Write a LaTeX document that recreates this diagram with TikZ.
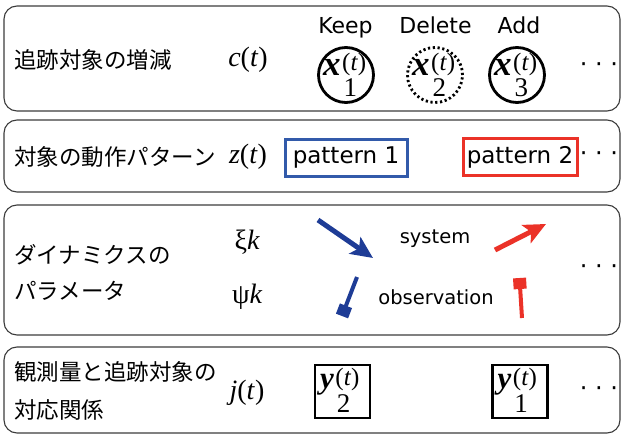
\documentclass[tikz,border=0pt]{standalone}
\usepackage{fontspec}
\setmainfont{DejaVu Sans}
\newfontfamily\jp{Noto Sans CJK JP}
\newfontfamily\tmsf{Liberation Serif}
\newfontfamily\vfont{DejaVu Sans}
\usetikzlibrary{arrows.meta}
\definecolor{myblue}{RGB}{30,60,150}
\definecolor{boxblue}{RGB}{50,90,170}
\definecolor{myred}{RGB}{235,50,40}
\definecolor{frame}{RGB}{60,60,60}
% #1 letter, #2 subscript, #3 letter size, #4 raise of (t), #5 drop of subscript
\newcommand\vecsym[5]{{\fontsize{#3}{#3}\tmsf\bfseries\itshape #1}\kern1.5pt\rlap{\kern1.5pt\raisebox{-#5}{\fontsize{27}{27}\tmsf #2}}\raisebox{#4}{\fontsize{25}{25}\tmsf(\itshape t\/\upshape)}}
\begin{document}
\begin{tikzpicture}[x=1pt,y=-1pt,
  panel/.style={draw=frame,line width=1.1pt,rounded corners=13pt},
  jptext/.style={font=\fontsize{22.5}{22.5}\jp,anchor=west,inner sep=0pt},
  mlabel/.style={font=\fontsize{28}{28}\tmsf,inner sep=0pt},
  lat/.style={font=\fontsize{22}{22}\vfont,inner sep=0pt},
  small/.style={font=\fontsize{19.5}{19.5}\vfont,inner sep=0pt},
  dots/.style={font=\fontsize{24}{24}\vfont,inner sep=0pt},
  vtext/.style={anchor=base west,inner sep=0pt},
  xcirc/.style={circle,draw=black,line width=2.8pt,minimum size=55pt,inner sep=0pt},
  ybox/.style={draw=black,line width=2.8pt,minimum width=55pt,minimum height=53pt,inner sep=0pt},
  patbox/.style={line width=3pt,minimum height=37pt,inner sep=0pt,font=\fontsize{23}{23}\vfont},
  bigarrow/.style={line width=5pt,-{Stealth[length=22pt,width=20pt,inset=5pt]}},
  sqarrow/.style={line width=4pt,-{Square[length=11pt,width=13pt]}}
]
\useasboundingbox (0,0) rectangle (622,439);

% panels
\draw[panel] (4,6) rectangle (620,111);
\draw[panel] (4,120) rectangle (620,192);
\draw[panel] (4,205) rectangle (620,335);
\draw[panel] (4,347) rectangle (620,433);

% panel 1
\node[jptext] (l1) at (14,60) {追跡対象の増減};
\node[mlabel] (c) at (248,60) {\itshape c\/\upshape(\itshape t\/\upshape)};
\node[lat,anchor=base] (keep) at (345.5,33) {Keep};
\node[lat,anchor=base] (del) at (435.5,33) {Delete};
\node[lat,anchor=base] (add) at (519,33) {Add};
\node[xcirc] (x1) at (346,75) {};
\node[xcirc,dash pattern=on 2.2pt off 2.6pt] (x2) at (435,75) {};
\node[xcirc] (x3) at (517,75) {};
\node[vtext] (x1t) at (323,75) {\vecsym{x}{1}{35}{5pt}{21pt}};
\node[vtext] (x2t) at (412,75) {\vecsym{x}{2}{35}{5pt}{21pt}};
\node[vtext] (x3t) at (494,75) {\vecsym{x}{3}{35}{5pt}{21pt}};
\node[dots] (d1) at (599,68) {· · ·};

% panel 2
\node[jptext] (l2) at (14,157) {対象の動作パターン};
\node[mlabel] (z) at (248,157) {\itshape z\/\upshape(\itshape t\/\upshape)};
\node[patbox,draw=boxblue,minimum width=122pt] (p1) at (346,157.5) {pattern 1};
\node[patbox,draw=myred,minimum width=114pt] (p2) at (520,157) {pattern 2};
\node[dots] (d2) at (599,157) {· · ·};

% panel 3
\node[jptext] (l3a) at (14,255) {ダイナミクスの};
\node[jptext] (l3b) at (14,291) {パラメータ};
\node[mlabel] (xi) at (247,242) {ξ\itshape k};
\node[mlabel] (psi) at (247,297) {ψ\itshape k};
\node[small] (sys) at (435,239) {system};
\node[small] (obs) at (436,297) {observation};
\coordinate (ba1) at (318,220);
\coordinate (ba2) at (373,258);
\coordinate (ra1) at (495,250);
\coordinate (ra2) at (546,224);
\coordinate (bs1) at (357,277);
\coordinate (bs2) at (342,316);
\coordinate (rs1) at (522,318);
\coordinate (rs2) at (519.5,278);
\draw[bigarrow,myblue] (ba1) -- (ba2);
\draw[bigarrow,myred] (ra1) -- (ra2);
\draw[sqarrow,myblue] (bs1) -- (bs2);
\draw[sqarrow,myred] (rs1) -- (rs2);
\node[dots] (d3) at (599,270) {· · ·};

% panel 4
\node[jptext] (l4a) at (14,372) {観測量と追跡対象の};
\node[jptext] (l4b) at (14,410) {対応関係};
\node[mlabel] (j) at (247,393) {\itshape j\/\upshape(\itshape t\/\upshape)};
\node[ybox] (y2) at (342.5,391.5) {};
\node[ybox] (y1) at (520,391.5) {};
\node[vtext] (y2t) at (320,388) {\vecsym{y}{2}{31}{3pt}{24pt}};
\node[vtext] (y1t) at (497.5,388) {\vecsym{y}{1}{31}{3pt}{24pt}};
\node[dots] (d4) at (599,392) {· · ·};
\end{tikzpicture}
\end{document}
